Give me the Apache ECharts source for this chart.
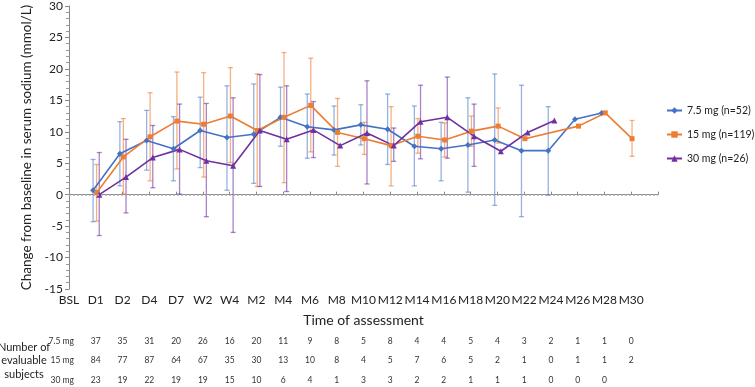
<!DOCTYPE html>
<html>
<head>
<meta charset="utf-8">
<script src="https://cdn.jsdelivr.net/npm/echarts@6/dist/echarts.min.js"></script>
<style>
html, body { margin: 0; padding: 0; background: #fff; }
#chart { width: 755px; height: 387px; }
</style>
</head>
<body>
<div id="chart"></div>
<script>
// time points (last slot left empty so the axis runs on past M30)
var categories = ['BSL', 'D1', 'D2', 'D4', 'D7', 'W2', 'W4', 'M2', 'M4', 'M6', 'M8', 'M10',
    'M12', 'M14', 'M16', 'M18', 'M20', 'M22', 'M24', 'M26', 'M28', 'M30', ''];

var seriesNames = ['7.5 mg (n=52)', '15 mg (n=119)', '30 mg (n=26)'];

// mean change from baseline
var mean75 = [null, 0.7, 6.5, 8.6, 7.3, 10.2, 9.1, 9.6, 12.3, 10.8, 10.3, 11.1, 10.4, 7.7, 7.3, 7.9, 8.7, 7.0, 7.0, 12.0, 13.0, null];
var mean15 = [null, 0.3, 6.0, 9.2, 11.7, 11.2, 12.5, 10.2, 12.3, 14.2, 9.9, 8.9, 7.8, 9.3, 8.7, 10.1, 10.9, 8.9, null, 10.9, 13.0, 8.9];
var mean30 = [null, 0.0, 2.8, 5.9, 7.2, 5.4, 4.6, 10.2, 8.8, 10.3, 7.8, 9.8, 7.8, 11.6, 12.3, 9.3, 6.9, 9.9, 11.8, null, null, null];

// error bar ends (null = no bar)
var low75 = [null, -4.3, 1.4, 3.9, 2.2, 4.3, 0.7, 1.8, 7.7, 5.8, 6.3, 7.9, 4.8, 1.4, 2.2, 0.4, -1.7, -3.5, -0.1, null, null, null];
var high75 = [null, 5.6, 11.6, 13.4, 12.4, 15.5, 17.3, 17.6, 17.1, 16.0, 14.1, 14.3, 16.0, 14.1, 11.5, 15.4, 19.2, 17.4, 14.0, null, null, null];
var low15 = [null, -4.2, 0.1, 2.2, 4.1, 2.8, 5.1, 1.3, 1.9, 6.8, 4.5, 6.4, 1.4, 6.6, 6.0, 7.7, 8.2, null, null, null, null, 6.1];
var high15 = [null, 4.8, 12.1, 16.2, 19.5, 19.4, 20.2, 19.2, 22.6, 21.7, 15.3, 11.5, 14.0, 12.1, 11.4, 12.5, 13.8, null, null, null, null, 11.8];
var low30 = [null, -6.5, -2.9, 1.1, 0.1, -3.5, -6.0, 1.3, 0.5, 5.9, null, 1.7, 5.3, 5.7, 5.8, 4.5, null, null, null, null, null, null];
var high30 = [null, 6.7, 8.8, 11.0, 14.4, 14.5, 15.4, 19.1, 17.3, 14.8, null, 18.1, 10.6, 17.4, 18.7, 14.4, null, null, null, null, null, null];

// number of evaluable subjects, D1 .. M30
var nRowLabels = ['7.5 mg', '15 mg', '30 mg'];
var n75 = [37, 35, 31, 20, 26, 16, 20, 11, 9, 8, 5, 8, 4, 4, 5, 4, 3, 2, 1, 1, 0];
var n15 = [84, 77, 87, 64, 67, 35, 30, 13, 10, 8, 4, 5, 7, 6, 5, 2, 1, 0, 1, 1, 2];
var n30 = [23, 19, 22, 19, 19, 15, 10, 6, 4, 1, 3, 3, 2, 2, 1, 1, 1, 0, 0, 0];

var colors = ['#4472C4', '#ED7D31', '#7030A0'];
var barColors = ['rgba(68,114,196,0.55)', 'rgba(237,125,49,0.6)', 'rgba(112,48,160,0.6)'];
var dodge = [-0.1, 0.03, 0.13];
var symbols = ['diamond', 'rect', 'triangle'];
var symbolSizes = [6, 5, 6];
var FONT = 'Lato';

var chart = echarts.init(document.getElementById('chart'));

function linePoints(means, k) {
    return means.map(function (v, i) {
        return v === null ? [i + dodge[k], '-'] : [i + dodge[k], v];
    });
}

function barPoints(lows, highs, k) {
    var out = [];
    lows.forEach(function (v, i) {
        if (v !== null && highs[i] !== null) out.push([i + dodge[k], v, highs[i]]);
    });
    return out;
}

function errorBar(k) {
    return {
        type: 'custom',
        name: 'sd' + k,
        z: 1,
        silent: true,
        renderItem: function (params, api) {
            var x = api.value(0);
            var top = api.coord([x, api.value(2)]);
            var bot = api.coord([x, api.value(1)]);
            var w = 2.5;
            var style = { stroke: barColors[k], lineWidth: 1.3 };
            return {
                type: 'group',
                children: [
                    { type: 'line', shape: { x1: top[0], y1: top[1], x2: bot[0], y2: bot[1] }, style: style },
                    { type: 'line', shape: { x1: top[0] - w, y1: top[1], x2: top[0] + w, y2: top[1] }, style: style },
                    { type: 'line', shape: { x1: bot[0] - w, y1: bot[1], x2: bot[0] + w, y2: bot[1] }, style: style }
                ]
            };
        },
        encode: { x: 0, y: [1, 2] },
        data: barPoints([low75, low15, low30][k], [high75, high15, high30][k], k)
    };
}

var series = [];
[0, 1, 2].forEach(function (k) {
    series.push(errorBar(k));
});
[mean75, mean15, mean30].forEach(function (means, k) {
    var s = {
        type: 'line',
        name: seriesNames[k],
        z: 3,
        data: linePoints(means, k),
        connectNulls: true,
        symbol: symbols[k],
        symbolSize: symbolSizes[k],
        showSymbol: true,
        itemStyle: { color: colors[k] },
        lineStyle: { color: colors[k], width: 1.6 },
        emphasis: { disabled: true }
    };
    if (k === 0) {
        s.markLine = {
            silent: true,
            symbol: 'none',
            label: { show: false },
            lineStyle: { color: '#aaa', type: [2, 2], width: 1.5 },
            data: [{ yAxis: 0 }]
        };
    }
    series.push(s);
});

chart.setOption({
    animation: false,
    color: colors,
    grid: { left: 69, right: 97, top: 5, bottom: 98 },
    legend: {
        orient: 'vertical',
        left: 661,
        top: 100,
        itemWidth: 15,
        itemHeight: 8,
        itemGap: 13,
        data: seriesNames,
        textStyle: { fontFamily: FONT, fontSize: 10.5, color: '#222' }
    },
    xAxis: {
        type: 'value',
        min: 0,
        max: 22,
        interval: 1,
        name: 'Time of assessment',
        nameLocation: 'middle',
        nameGap: 24,
        nameTextStyle: { fontFamily: FONT, fontSize: 14, color: '#222' },
        axisLine: { lineStyle: { color: '#888' } },
        axisTick: { inside: true, length: 3, lineStyle: { color: '#888' } },
        splitLine: { show: false },
        axisLabel: {
            fontFamily: FONT, fontSize: 12, color: '#222', margin: 5,
            formatter: function (v) { return categories[v] || ''; }
        }
    },
    yAxis: {
        type: 'value',
        min: -15,
        max: 30,
        interval: 5,
        name: 'Change from baseline in serum sodium (mmol/L)',
        nameLocation: 'middle',
        nameGap: 30,
        nameTextStyle: { fontFamily: FONT, fontSize: 13.5, color: '#222' },
        axisLine: { show: true, lineStyle: { color: '#888' } },
        axisTick: { show: true, length: 4, lineStyle: { color: '#888' } },
        minorTick: { show: true, splitNumber: 5, length: 3, lineStyle: { color: '#999' } },
        splitLine: { show: false },
        axisLabel: { fontFamily: FONT, fontSize: 12, color: '#222', margin: 6 }
    },
    series: series
});

// table of evaluable subjects under the axis
var rowY = [341, 360, 380];
var graphic = [];
['Number of', 'evaluable', 'subjects'].forEach(function (t, i) {
    graphic.push({ type: 'text', style: { text: t, x: 24, y: 347 + i * 13.5, align: 'center', verticalAlign: 'middle', font: '11px ' + FONT, fill: '#222' } });
});
[n75, n15, n30].forEach(function (row, r) {
    graphic.push({ type: 'text', style: { text: nRowLabels[r], x: 74, y: rowY[r], align: 'right', verticalAlign: 'middle', font: '8.5px ' + FONT, fill: '#333' } });
    row.forEach(function (n, i) {
        var px = chart.convertToPixel({ xAxisIndex: 0 }, i + 1);
        graphic.push({ type: 'text', style: { text: String(n), x: px, y: rowY[r], align: 'center', verticalAlign: 'middle', font: '8.5px ' + FONT, fill: '#333' } });
    });
});
chart.setOption({ graphic: graphic });
</script>
</body>
</html>
